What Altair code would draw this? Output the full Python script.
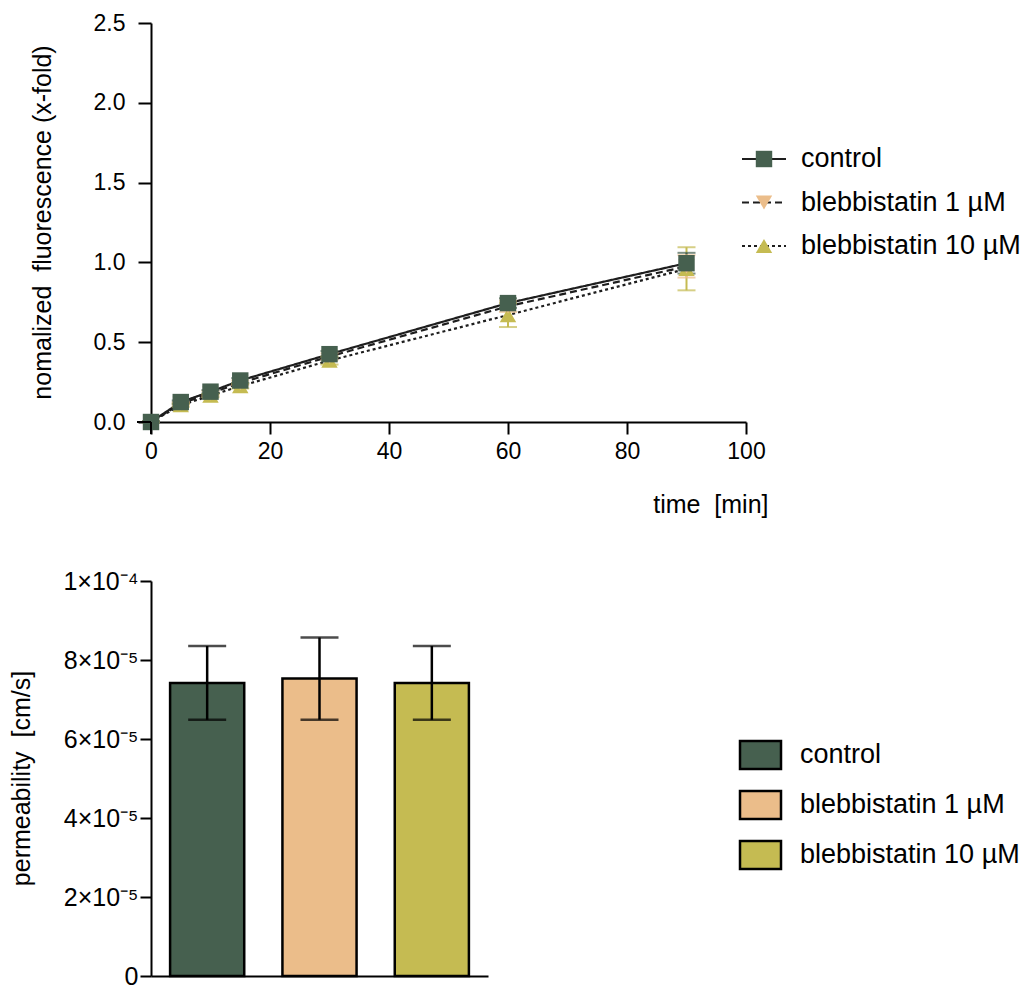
import altair as alt
import pandas as pd

# ---------------- data ----------------
series = ["control", "blebbistatin 1 µM", "blebbistatin 10 µM"]
colors = ["#46604F", "#EBBD8A", "#C5BB52"]
shapes = ["square", "triangle-down", "triangle-up"]
dashes = [[1, 0], [7, 4], [3, 3]]

time_min = [0, 5, 10, 15, 30, 60, 90]
fluor_control = [0.0, 0.125, 0.19, 0.26, 0.425, 0.745, 0.995]
fluor_b1 = [0.0, 0.115, 0.18, 0.245, 0.41, 0.725, 0.975]
fluor_b10 = [0.0, 0.105, 0.165, 0.225, 0.385, 0.67, 0.96]
err_control = [0.005, 0.01, 0.01, 0.015, 0.02, 0.03, 0.065]
err_b1 = [0.005, 0.01, 0.015, 0.015, 0.02, 0.035, 0.07]
err_b10 = [0.005, 0.01, 0.01, 0.015, 0.025, 0.075, 0.135]

perm_mean = [7.42e-5, 7.53e-5, 7.42e-5]
perm_err = [0.935e-5, 1.04e-5, 0.935e-5]

perm_ticks = [0, 2e-5, 4e-5, 6e-5, 8e-5, 1e-4]
perm_tick_labels = ["0", "2×10⁻⁵", "4×10⁻⁵", "6×10⁻⁵", "8×10⁻⁵", "1×10⁻⁴"]

FONT = "Liberation Sans"

# ---------------- tables ----------------
rows = []
for z, (name, vals, errs) in enumerate(
    [(series[2], fluor_b10, err_b10), (series[1], fluor_b1, err_b1), (series[0], fluor_control, err_control)]
):
    for t, v, e in zip(time_min, vals, errs):
        rows.append({"series": name, "time": t, "value": v, "lo": v - e, "hi": v + e, "z": z})
ts = pd.DataFrame(rows)

bars = pd.DataFrame({
    "group": series,
    "mean": perm_mean,
    "lo": [m - e for m, e in zip(perm_mean, perm_err)],
    "hi": [m + e for m, e in zip(perm_mean, perm_err)],
})
legend_df = pd.DataFrame({"series": series})

color_scale = alt.Scale(domain=series, range=colors)
shape_scale = alt.Scale(domain=series, range=shapes)
dash_scale = alt.Scale(domain=series, range=dashes)

# ---------------- top: time course ----------------
x_enc = alt.X("time:Q", scale=alt.Scale(domain=[0, 100], nice=False),
              axis=alt.Axis(values=[0, 20, 40, 60, 80, 100], title="time \u00a0[min]",
                            tickSize=12, labelPadding=6, labelFlush=False,
                            titleX=617, titleY=82,
                            titleAlign="right", titleBaseline="middle", titleAnchor="start"))
y_enc = alt.Y("value:Q", scale=alt.Scale(domain=[0, 2.5], nice=False),
              axis=alt.Axis(values=[0, 0.5, 1.0, 1.5, 2.0, 2.5], format=".1f",
                            title="nomalized \u00a0fluorescence (x-fold)", labelFlush=False,
                            tickSize=13, labelPadding=13, titleX=-109, titleY=199,
                            titleAlign="center", titleBaseline="middle", titleAngle=270))

base = alt.Chart(ts)
lines = base.mark_line(color="#1e1e1e", strokeWidth=2.2).encode(
    x=x_enc, y=y_enc,
    strokeDash=alt.StrokeDash("series:N", scale=dash_scale, legend=None),
)
err_rule = base.mark_rule(strokeWidth=2).encode(
    x="time:Q", y="lo:Q", y2="hi:Q",
    color=alt.Color("series:N", scale=color_scale, legend=None),
    order=alt.Order("z:Q"),
)
cap_lo = base.mark_tick(orient="horizontal", size=18, thickness=2).encode(
    x="time:Q", y="lo:Q", color=alt.Color("series:N", scale=color_scale, legend=None),
    order=alt.Order("z:Q"),
)
cap_hi = base.mark_tick(orient="horizontal", size=18, thickness=2).encode(
    x="time:Q", y="hi:Q", color=alt.Color("series:N", scale=color_scale, legend=None),
    order=alt.Order("z:Q"),
)
pts = base.mark_point(filled=True, opacity=1, size=270).encode(
    x="time:Q", y="value:Q",
    fill=alt.Fill("series:N", scale=color_scale, legend=None),
    shape=alt.Shape("series:N", scale=shape_scale, legend=None),
    order=alt.Order("z:Q"),
)
one = pd.DataFrame({"a": [0]})
ext_v = alt.Chart(one).mark_rule(color="black", strokeWidth=2).encode(
    x=alt.value(0), y=alt.value(399), y2=alt.value(411))
ext_h = alt.Chart(one).mark_rule(color="black", strokeWidth=2).encode(
    x=alt.value(-14), x2=alt.value(0), y=alt.value(399))

top_plot = alt.layer(lines, err_rule, cap_lo, cap_hi, pts, ext_v, ext_h).properties(width=595, height=399)

lg_y = alt.Y("series:N", scale=alt.Scale(type="point", domain=series, range=[136, 223], padding=0), axis=None)
lg_base = alt.Chart(legend_df).encode(y=lg_y)
lg_line = lg_base.mark_rule(color="#1e1e1e", strokeWidth=2).encode(
    x=alt.value(-4), x2=alt.value(40),
    strokeDash=alt.StrokeDash("series:N", scale=dash_scale, legend=None))
lg_pt = lg_base.mark_point(filled=True, opacity=1, size=270).encode(
    x=alt.value(18),
    fill=alt.Fill("series:N", scale=color_scale, legend=None),
    shape=alt.Shape("series:N", scale=shape_scale, legend=None))
lg_txt = lg_base.mark_text(align="left", baseline="middle", font=FONT, fontSize=27, color="black").encode(
    x=alt.value(55), text="series:N")
legend_top = alt.layer(lg_line, lg_pt, lg_txt).properties(width=280, height=399)

# ---------------- bottom: permeability ----------------
label_expr = "[" + ",".join("'" + s + "'" for s in perm_tick_labels) + "][round(datum.value / 2e-5)]"
bbase = alt.Chart(bars)
bar_x = alt.X("group:N", sort=series,
              scale=alt.Scale(domain=series, paddingInner=0.34, paddingOuter=0.17),
              axis=alt.Axis(labels=False, ticks=False, title=None))
bar_y = alt.Y("mean:Q", scale=alt.Scale(domain=[0, 1e-4], nice=False),
              axis=alt.Axis(values=perm_ticks, labelExpr=label_expr, labelFontSize=25,
                            labelFlush=False,
                            title="permeability \u00a0[cm/s]", tickSize=11, labelPadding=2,
                            titleX=-130, titleY=197, titleAlign="center",
                            titleBaseline="middle", titleAngle=270))
bar_marks = bbase.mark_bar(stroke="black", strokeWidth=2.5).encode(
    x=bar_x, y=bar_y, fill=alt.Fill("group:N", scale=color_scale, legend=None))
bar_err = bbase.mark_rule(color="black", strokeWidth=2.5).encode(x="group:N", y="lo:Q", y2="hi:Q")
bar_cap_lo = bbase.mark_tick(orient="horizontal", size=38, thickness=2.5, color="black").encode(
    x="group:N", y="lo:Q")
bar_cap_hi = bbase.mark_tick(orient="horizontal", size=38, thickness=2.5, color="black").encode(
    x="group:N", y="hi:Q")
bottom_plot = alt.layer(bar_marks, bar_err, bar_cap_lo, bar_cap_hi).properties(width=337, height=395)

lg2_y = alt.Y("series:N", scale=alt.Scale(type="point", domain=series, range=[174, 274], padding=0), axis=None)
lg2_base = alt.Chart(legend_df).encode(y=lg2_y)
swatch = "M-1,-0.68L1,-0.68L1,0.68L-1,0.68Z"
lg2_sw = lg2_base.mark_point(filled=True, opacity=1, shape=swatch, size=1681,
                             stroke="black", strokeWidth=2.5, strokeOpacity=1).encode(
    x=alt.value(14.5), fill=alt.Fill("series:N", scale=color_scale, legend=None))
lg2_txt = lg2_base.mark_text(align="left", baseline="middle", font=FONT, fontSize=27, color="black").encode(
    x=alt.value(54), text="series:N")
legend_bottom = alt.layer(lg2_sw, lg2_txt).properties(width=280, height=395)

chart = alt.concat(
    top_plot, legend_top, bottom_plot, legend_bottom,
    columns=2, spacing={"row": 159, "column": 0}, bounds="flush", align="none",
).properties(
    padding={"left": 9, "top": 12, "right": 0, "bottom": 0},
    background="white",
).configure_view(stroke=None).configure_axis(
    grid=False, domainColor="black", domainWidth=2, tickColor="black", tickWidth=2,
    labelFont=FONT, labelFontSize=23, labelColor="black",
    titleFont=FONT, titleFontSize=25, titleFontWeight="normal", titleColor="black",
)

chart.save("out.html", embed_options={"renderer": "svg", "actions": False})
